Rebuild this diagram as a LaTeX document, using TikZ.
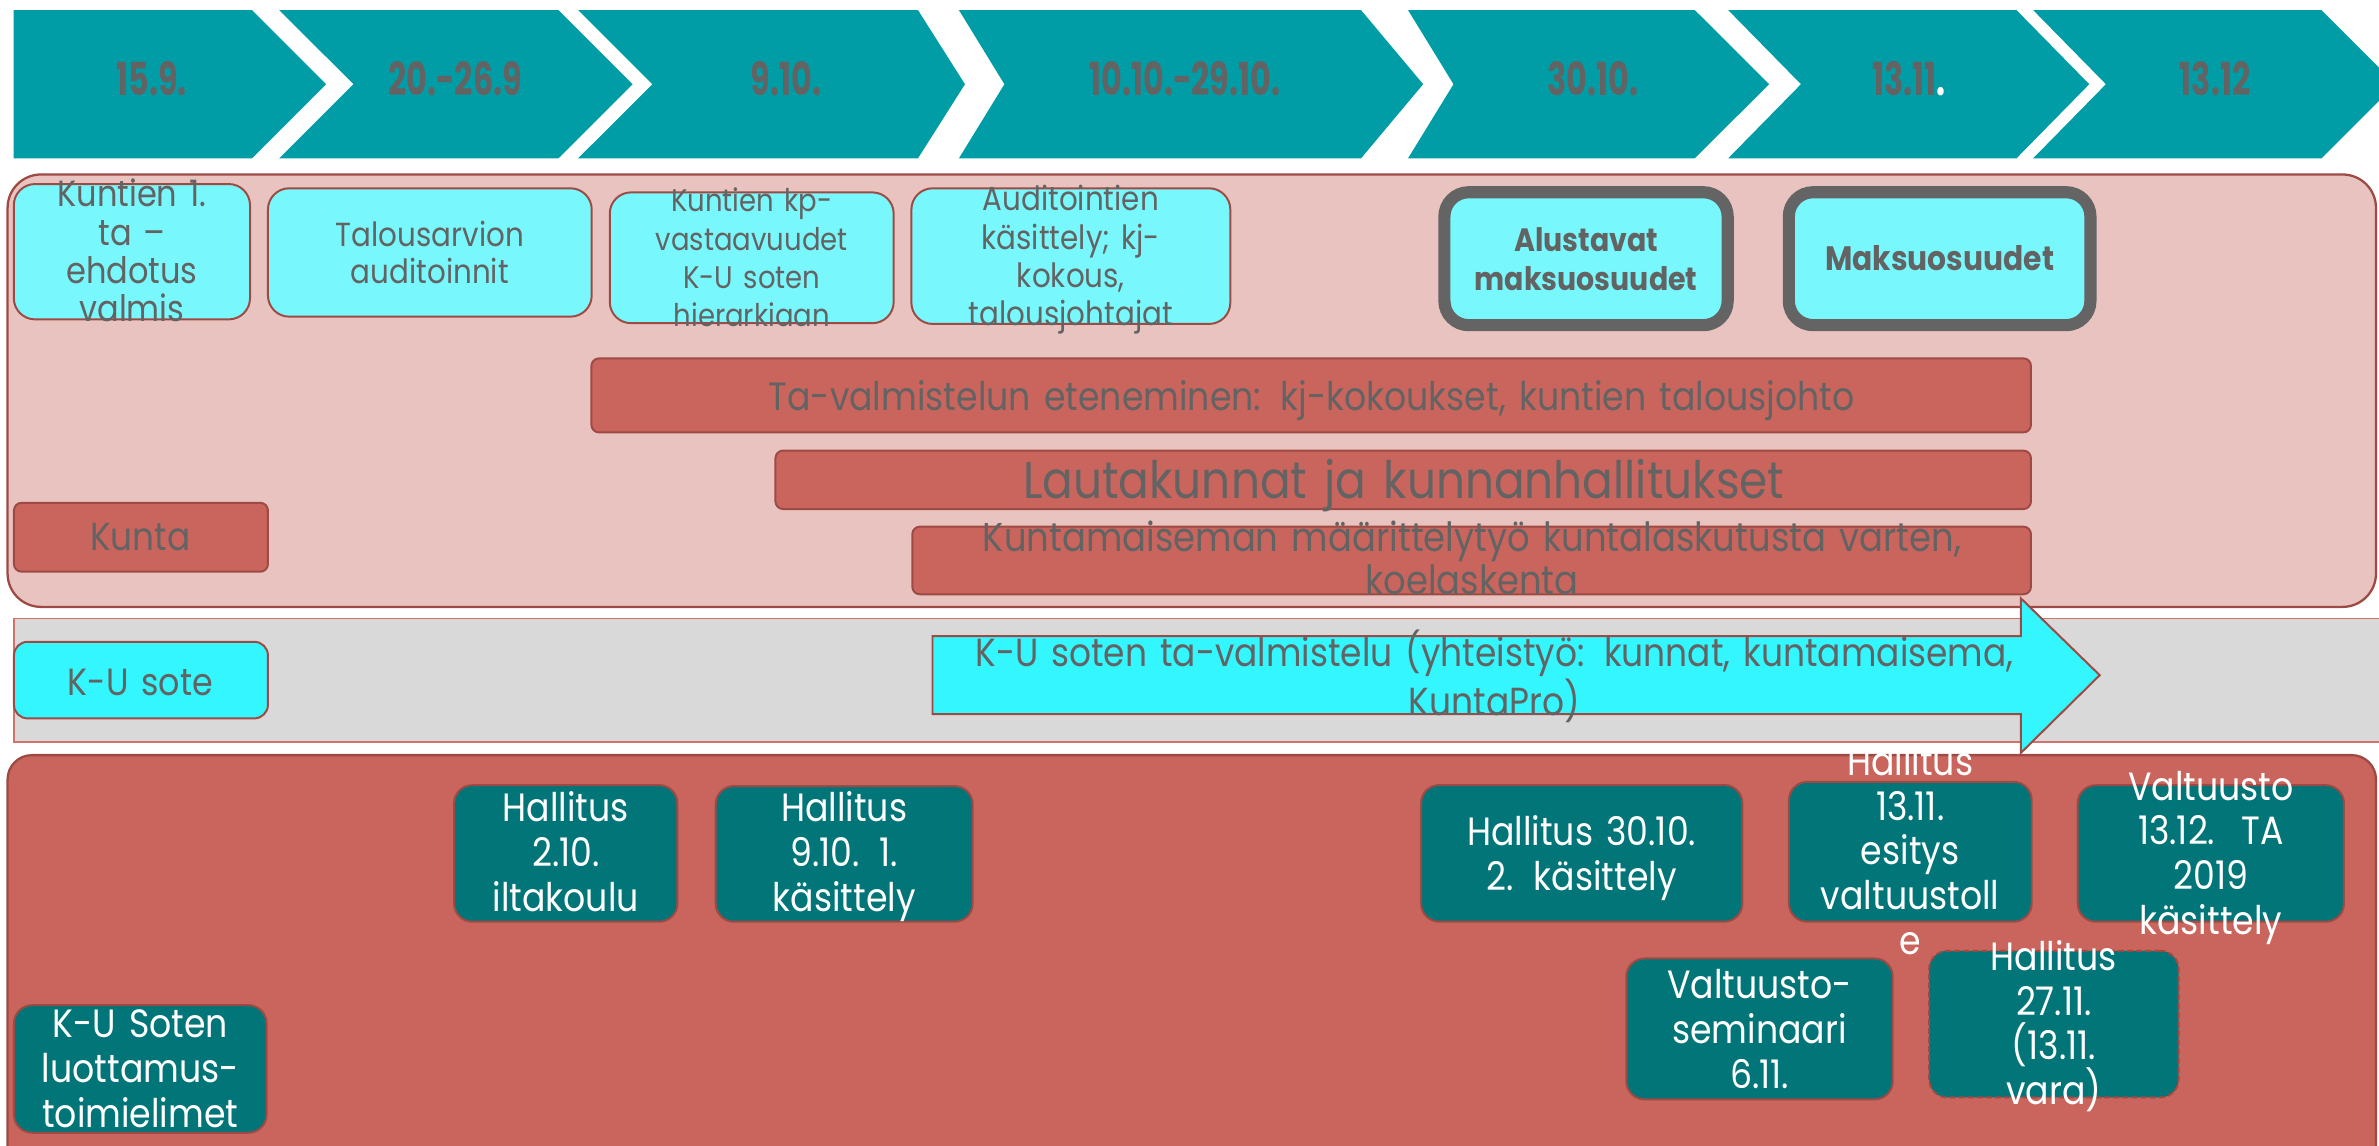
\documentclass[tikz,border=0pt]{standalone}
\usepackage{fontspec}
\setmainfont{Poppins}[FakeStretch=0.88,Numbers=Monospaced]
\newfontfamily\chevfont{Poppins}[FakeStretch=0.7,Numbers=Monospaced]
\usetikzlibrary{fit}
\definecolor{chev}{RGB}{0,157,166}
\definecolor{pinkf}{RGB}{233,195,191}
\definecolor{redf}{RGB}{201,101,93}
\definecolor{bord}{RGB}{158,74,68}
\definecolor{cyanl}{RGB}{120,248,252}
\definecolor{cyanb}{RGB}{51,246,255}
\definecolor{grayf}{RGB}{217,217,217}
\definecolor{grayb}{RGB}{210,115,107}
\definecolor{tealdk}{RGB}{2,117,121}
\definecolor{tgray}{RGB}{99,99,99}
\definecolor{thickg}{RGB}{100,100,100}
\newcommand{\myfs}[2]{\fontsize{#1}{#2}\selectfont}
\begin{document}
\begin{tikzpicture}[x=1pt,y=-1pt,
  cbox/.style={draw=bord, fill=cyanl, rounded corners=14pt, line width=1.3pt, inner sep=0pt},
  gbox/.style={draw=thickg, fill=cyanl, rounded corners=16pt, line width=8pt, inner sep=0pt},
  rbar/.style={draw=bord, fill=redf, rounded corners=5pt, line width=1.3pt, inner sep=0pt},
  tbox/.style={draw=bord, fill=tealdk, rounded corners=12pt, line width=1.3pt, inner sep=0pt},
  txt/.style={text=tgray, align=center, inner sep=0pt, anchor=base, text width=400pt},
  wtxt/.style={text=white, align=center, inner sep=0pt, anchor=base, text width=300pt, font=\myfs{26}{29.6}},
  chevtxt/.style={text=tgray, inner sep=0pt, anchor=base, font=\chevfont\bfseries\myfs{30}{32}},
  ktxt/.style={txt, font=\myfs{20}{25.3}},
]
\useasboundingbox (0,0) rectangle (1568,755.3);
\clip (0,0) rectangle (1568,755.3);
\fill[white] (0,0) rectangle (1568,755.3);

% timeline chevrons
\fill[chev] (9,6.6) -- (166,6.6) -- (215,55.5) -- (166,104.4) -- (9,104.4) -- cycle;
\fill[chev] (184,6.6) -- (368,6.6) -- (417,55.5) -- (368,104.4) -- (184,104.4) -- (233,55.5) -- cycle;
\fill[chev] (381,6.6) -- (605,6.6) -- (636,55.5) -- (605,104.4) -- (381,104.4) -- (430,55.5) -- cycle;
\fill[chev] (632,6.6) -- (897,6.6) -- (938,55.5) -- (897,104.4) -- (632,104.4) -- (662,55.5) -- cycle;
\fill[chev] (928,6.6) -- (1117,6.6) -- (1166,55.5) -- (1117,104.4) -- (928,104.4) -- (958,55.5) -- cycle;
\fill[chev] (1139,6.6) -- (1329,6.6) -- (1377,55.5) -- (1329,104.4) -- (1139,104.4) -- (1187,55.5) -- cycle;
\fill[chev] (1340,6.6) -- (1530,6.6) -- (1579,55.5) -- (1530,104.4) -- (1340,104.4) -- (1388,55.5) -- cycle;
\node[chevtxt] (d1) at (100,63) {15.9.};
\node[chevtxt] (d2) at (300,63) {20.-26.9};
\node[chevtxt] (d3) at (518,63) {9.10.};
\node[chevtxt] (d4) at (781,63) {10.10.-29.10.};
\node[chevtxt] (d5) at (1050,63) {30.10.};
\node[chevtxt] (d6) at (1258,63) {13.11\textcolor{white}{.}};
\node[chevtxt] (d7) at (1460,63) {13.12};

% section backgrounds
\node[draw=bord, fill=pinkf, line width=1.5pt, rounded corners=22pt, inner sep=0pt, fit={(5,115) (1566,400)}] (kuntasec) {};
\node[draw=grayb, fill=grayf, line width=1.2pt, inner sep=0pt, fit={(9.2,407.6) (1580,488.9)}] (sotesec) {};
\node[draw=bord, fill=redf, line width=1.5pt, rounded corners=16pt, inner sep=0pt, fit={(5,497.7) (1566,790)}] (luottsec) {};

% Kunta section boxes
\node[cbox, fit={(9.1,121.3) (164.8,210.5)}] (k1) {};
\node[txt, font=\myfs{24}{25.3}] (k1t) at (87,136.2) {Kuntien 1.\\ta –\\ehdotus\\valmis};
\node[cbox, fit={(176.6,124.1) (390,208.7)}] (k2) {};
\node[txt, font=\myfs{22}{24.2}] (k2t) at (283.3,162.6) {Talousarvion\\auditoinnit};
\node[cbox, fit={(401.9,126.8) (589,213)}] (k3) {};
\node[txt, font=\myfs{20.6}{25.3}] (k3t) at (495.5,139.5) {Kuntien kp-\\vastaavuudet\\K-U soten\\hierarkiaan};
\node[cbox, fit={(600.7,124.1) (810.9,213.5)}] (k4) {};
\node[txt, font=\myfs{22}{25.3}] (k4t) at (705.8,138.9) {Auditointien\\käsittely; kj-\\kokous,\\talousjohtajat};
\node[gbox, fit={(952,126.7) (1138.7,214.3)}] (k5) {};
\node[txt, font=\bfseries\myfs{21.3}{25.3}] (k5t) at (1045.4,165.9) {Alustavat\\maksuosuudet};
\node[gbox, fit={(1179,126.7) (1377.8,214.3)}] (k6) {};
\node[txt, font=\bfseries\myfs{22.3}{25.3}] (k6t) at (1278.4,178.4) {Maksuosuudet};

\node[rbar, fit={(389.8,236.2) (1338.6,285)}] (b1) {};
\node[txt, text width=900pt, font=\myfs{26}{30}] (b1t) at (864.5,270.3) {Ta-valmistelun eteneminen: kj-kokoukset, kuntien talousjohto};
\node[rbar, fit={(511.1,297) (1338.6,335.5)}] (b2) {};
\node[txt, text width=900pt, font=\myfs{34}{36}] (b2t) at (925.2,328.5) {Lautakunnat ja kunnanhallitukset};
\node[rbar, fit={(601.3,347.1) (1338.6,391.7)}] (b3) {};
\node[txt, text width=900pt, font=\myfs{26.5}{28.5}] (b3t) at (970.2,363.6) {Kuntamaiseman määrittelytyö kuntalaskutusta varten,\\koelaskenta};

\node[rbar, fit={(9.2,331.4) (176.6,376.8)}] (kunta) {};
\node[txt, font=\myfs{25.7}{30}] (kuntat) at (92.5,363) {Kunta};

% K-U sote band
\node[draw=bord, fill=cyanb, rounded corners=9pt, line width=1.3pt, inner sep=0pt, fit={(9.2,423) (176.6,473.5)}] (sote) {};
\node[txt, font=\myfs{25}{30}] (sotet) at (92.5,458.1) {K-U sote};

% bottom section boxes
\node[tbox, fit={(299.3,517.5) (446.5,607.5)}] (h1) {};
\node[wtxt] (h1t) at (372.9,541.6) {Hallitus\\2.10.\\iltakoulu};
\node[tbox, fit={(471.7,518.1) (641.1,607.5)}] (h2) {};
\node[wtxt] (h2t) at (556.4,541.6) {Hallitus\\9.10. 1.\\käsittely};
\node[tbox, fit={(9.2,662.5) (175.7,746.6)}] (lt) {};
\node[wtxt] (ltt) at (92.5,684) {K-U Soten\\luottamus-\\toimielimet};
\node[tbox, fit={(936.6,517.4) (1148.4,607.5)}] (h3) {};
\node[wtxt] (h3t) at (1042.5,557) {Hallitus 30.10.\\2. käsittely};
\node[tbox, fit={(1179.1,515.3) (1339.1,607.5)}] (h4) {};
\node[wtxt] (h4t) at (1259,510.9) {Hallitus\\13.11.\\esitys\\valtuustoll\\e};
\node[tbox, fit={(1369.4,517.5) (1544.9,607.5)}] (v1) {};
\node[wtxt] (v1t) at (1457.2,527.3) {Valtuusto\\13.12.~~TA\\2019\\käsittely};
\node[tbox, fit={(1071.9,631.7) (1247.5,724.6)}] (v2) {};
\node[wtxt] (v2t) at (1159.7,658) {Valtuusto-\\seminaari\\6.11.};
\node[tbox, dash pattern=on 4pt off 2pt, fit={(1271.5,626.7) (1435.9,723.3)}] (h5) {};
\node[wtxt] (h5t) at (1353.7,639.4) {Hallitus\\27.11.\\(13.11.\\vara)};

% big arrow
\draw[draw=bord, fill=cyanb, line width=1.3pt, line join=miter]
  (614.6,419.2) -- (1332,419.2) -- (1332,394.4) -- (1383.9,445) -- (1332,496.2) -- (1332,470.7) -- (614.6,470.7) -- cycle;
\node[txt, text width=900pt, font=\myfs{25.8}{28.5}] (arrowt) at (985,439.5) {K-U soten ta-valmistelu (yhteistyö: kunnat, kuntamaisema,\\KuntaPro)};
\end{tikzpicture}
\end{document}
